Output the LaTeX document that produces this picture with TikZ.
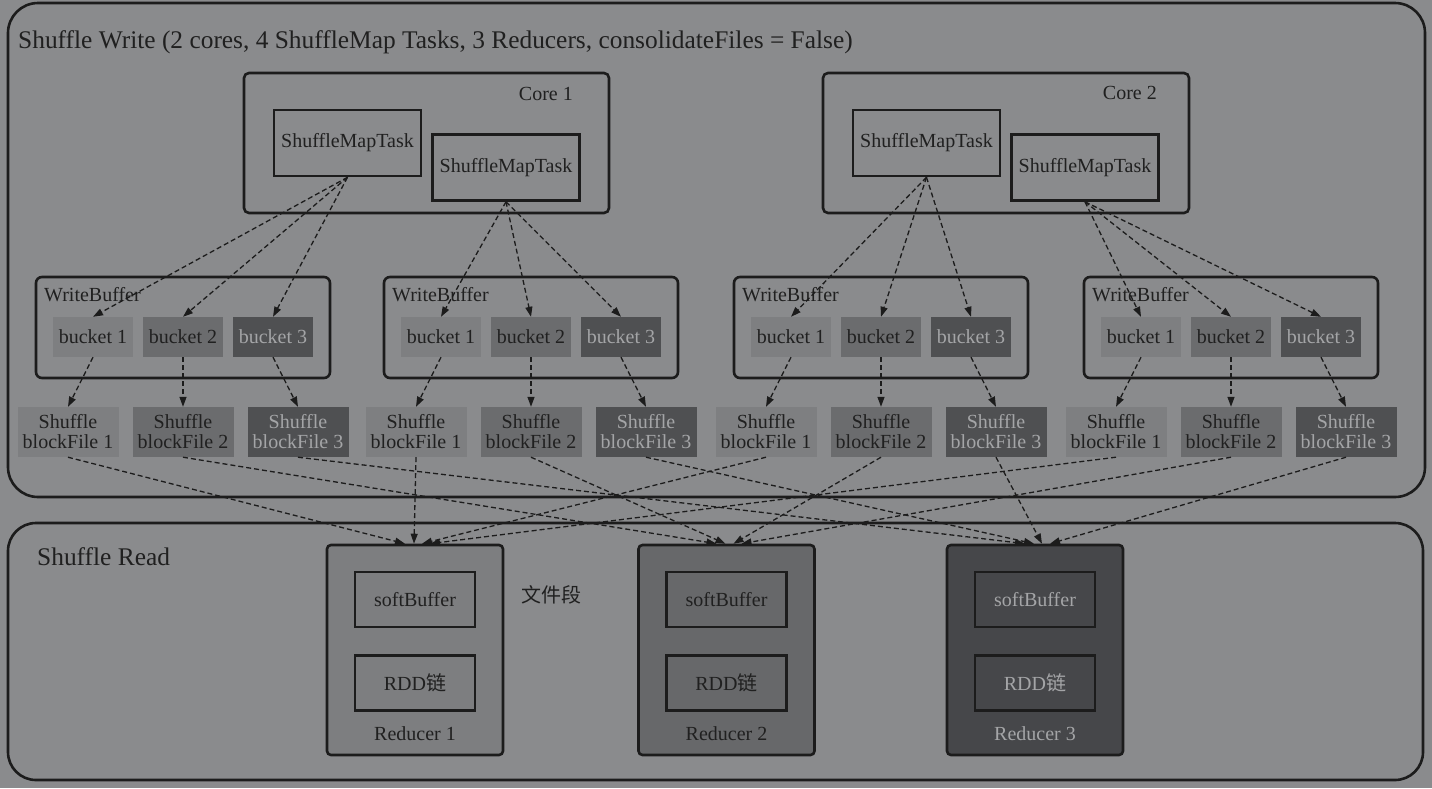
\documentclass[tikz,border=0pt]{standalone}
\usepackage{fontspec}
\setmainfont{Liberation Serif}
\newfontfamily\cjk{Noto Sans CJK SC}
\usetikzlibrary{arrows.meta}
\definecolor{bg}{HTML}{8A8B8D}
\definecolor{linec}{HTML}{1C1C1C}
\definecolor{txt}{HTML}{202020}
\definecolor{ltxt}{HTML}{A4A5A7}
\definecolor{shA}{HTML}{7E7F81}
\definecolor{shB}{HTML}{6B6C6E}
\definecolor{shC}{HTML}{4F5052}
\definecolor{rdA}{HTML}{7D7E80}
\definecolor{rdB}{HTML}{67686A}
\definecolor{rdC}{HTML}{46474A}
\tikzset{
  f20/.style={font=\fontsize{20}{20}\selectfont},
  f25/.style={font=\fontsize{25.4}{25.4}\selectfont},
  frame/.style={draw=linec, line width=2.6pt, rectangle, inner sep=0pt},
  lbl/.style={f20, text=txt, inner sep=0pt},
  smt/.style={frame, f20, text=txt, minimum width=147pt, minimum height=66pt},
  wbox/.style={frame, rounded corners=6pt, minimum width=294pt, minimum height=101pt},
  bucketbox/.style={rectangle, f20, inner sep=0pt, minimum width=80pt, minimum height=40pt},
  filebox/.style={rectangle, f20, align=center, inner sep=0pt, minimum width=101pt, minimum height=50pt},
  shadeA/.style={fill=shA, text=txt},
  shadeB/.style={fill=shB, text=txt},
  shadeC/.style={fill=shC, text=ltxt},
  redbox/.style={frame, rounded corners=4pt, minimum width=176pt, minimum height=210pt},
  innerbox/.style={frame, f20, minimum width=120pt, minimum height=55pt},
  dflow/.style={draw=linec, line width=1.3pt, dash pattern=on 5pt off 3pt, -{Triangle[length=10pt,width=7pt]}}
}
\begin{document}
\begin{tikzpicture}[x=1pt,y=-1pt]
\useasboundingbox (0,0) rectangle (1432,788);
\fill[bg] (0,0) rectangle (1432,788);

% outer frames
\node[frame, rounded corners=30pt, minimum width=1417pt, minimum height=494pt] (sw) at (716.5,250) {};
\node[frame, rounded corners=28pt, minimum width=1415pt, minimum height=257pt] (sr) at (715.5,651.5) {};
\node[f25, text=txt, inner sep=0pt, anchor=west] (swt) at (18,42) {Shuffle Write (2 cores, 4 ShuffleMap Tasks, 3 Reducers, consolidateFiles = False)};
\node[f25, text=txt, inner sep=0pt, anchor=west] (srt) at (37,557) {Shuffle Read};

% cores
\node[frame, rounded corners=5pt, minimum width=365pt, minimum height=140pt] (core1) at (426.5,143) {};
\node[lbl, anchor=east] (core1l) at (573,94) {Core 1};
\node[smt] (smtA) at (347.5,143) {ShuffleMapTask};
\node[smt] (smtB) at (506,167.5) {ShuffleMapTask};

\node[frame, rounded corners=5pt, minimum width=366pt, minimum height=140pt] (core2) at (1006,143) {};
\node[lbl, anchor=east] (core2l) at (1157,93) {Core 2};
\node[smt] (smtC) at (926.5,143) {ShuffleMapTask};
\node[smt] (smtD) at (1085,167.5) {ShuffleMapTask};

% write buffers, buckets, block files
\foreach \g/\cx in {1/183,2/531,3/881,4/1231}{
  \node[wbox] (wb\g) at (\cx,327.5) {};
  \node[lbl, anchor=west] (wbl\g) at (\cx-139,295) {WriteBuffer};
  \node[bucketbox, shadeA] (b\g1) at (\cx-90,337) {bucket 1};
  \node[bucketbox, shadeB] (b\g2) at (\cx,337) {bucket 2};
  \node[bucketbox, shadeC] (b\g3) at (\cx+90,337) {bucket 3};
  \node[filebox, shadeA] (f\g1) at (\cx-115,432) {Shuffle\\blockFile 1};
  \node[filebox, shadeB] (f\g2) at (\cx,432) {Shuffle\\blockFile 2};
  \node[filebox, shadeC] (f\g3) at (\cx+115,432) {Shuffle\\blockFile 3};
}

% reducers
\foreach \r/\cx/\col/\tc in {1/415/rdA/txt,2/726.5/rdB/txt,3/1035/rdC/ltxt}{
  \node[redbox, fill=\col] (r\r) at (\cx,650) {};
  \node[innerbox, text=\tc] (sb\r) at (\cx,599.5) {softBuffer};
  \node[innerbox, text=\tc] (rdd\r) at (\cx,683) {RDD{\cjk 链}};
  \node[lbl, text=\tc] (rl\r) at (\cx,734) {Reducer \r};
}
\node[lbl] (seg) at (551,595) {\cjk 文件段};

% edges: tasks -> buckets
\foreach \g/\t in {1/smtA,2/smtB,3/smtC,4/smtD}{
  \foreach \b in {1,2,3}{
    \draw[dflow] (\t.south) -- (b\g\b.north);
    \draw[dflow] (b\g\b.south) -- (f\g\b.north);
  }
}
% edges: block files -> reducers
\foreach \g/\off in {1/-10,2/-1,3/7,4/15}{
  \foreach \b in {1,2,3}{
    \draw[dflow] (f\g\b.south) -- ([xshift=\off pt]r\b.north);
  }
}
\end{tikzpicture}
\end{document}
